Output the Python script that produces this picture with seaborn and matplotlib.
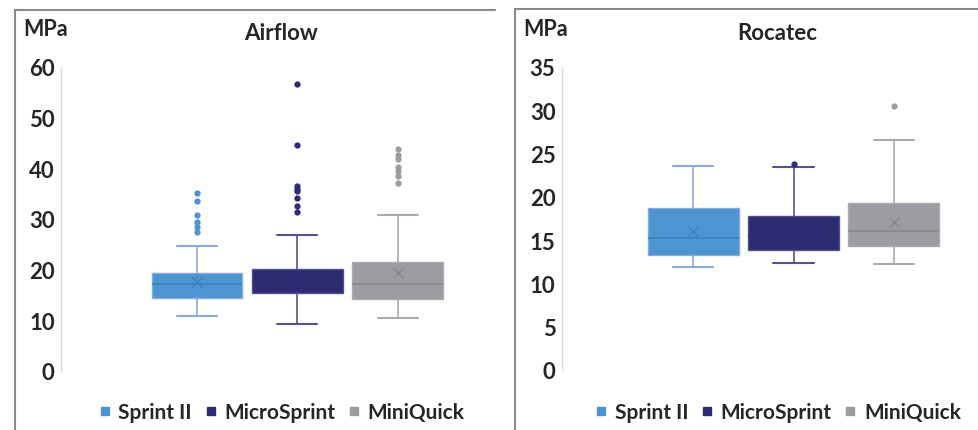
import matplotlib
matplotlib.use("Agg")
import matplotlib.pyplot as plt
from matplotlib.lines import Line2D
import seaborn as sns

# groups and summary stats (MPa)
groups = ["Sprint II", "MicroSprint", "MiniQuick"]

airflow_q1 = [14.4, 15.4, 14.3]
airflow_med = [17.1, 17.5, 17.2]
airflow_q3 = [19.4, 20.1, 21.6]
airflow_lo = [10.8, 9.2, 10.5]
airflow_hi = [24.6, 26.8, 30.8]
airflow_mean = [17.6, 18.2, 19.4]
airflow_out = [
    [35.2, 33.5, 30.8, 29.4, 28.5, 27.4],
    [56.6, 44.6, 36.5, 36.0, 35.6, 34.2, 32.6, 31.3],
    [43.8, 42.7, 41.8, 40.2, 39.5, 38.5, 37.2],
]

rocatec_q1 = [13.3, 13.9, 14.3]
rocatec_med = [15.3, 15.5, 16.0]
rocatec_q3 = [18.7, 17.8, 19.3]
rocatec_lo = [11.9, 12.4, 12.2]
rocatec_hi = [23.6, 23.4, 26.6]
rocatec_mean = [16.0, 16.2, 17.1]
rocatec_out = [[], [23.8], [30.5]]

airflow_ticks = [0, 10, 20, 30, 40, 50, 60]
rocatec_ticks = [0, 5, 10, 15, 20, 25, 30, 35]

fill_colors = ["#4e94d0", "#2e2b71", "#9c9da1"]
line_colors = ["#86aadb", "#55518f", "#a9aaad"]
mid_colors = ["#3f80c0", "#2e2b71", "#86878b"]

sns.set_style("white")
plt.rcParams["font.family"] = ["Lato", "DejaVu Sans"]
WEIGHT = "bold"

W, H = 979, 431
fig = plt.figure(figsize=(W / 100, H / 100), dpi=100)


def px(x, y):
    return x / W, 1 - y / H


def draw_panel(rect, xlim, ylim, ticks, q1, med, q3, lo, hi, mean, out):
    ax = fig.add_axes(rect)
    stats = []
    for i in range(len(groups)):
        stats.append(dict(label=groups[i], q1=q1[i], med=med[i], q3=q3[i],
                          whislo=lo[i], whishi=hi[i], mean=mean[i], fliers=out[i]))
    for i, st in enumerate(stats):
        ax.bxp([st], positions=[i], widths=0.905, patch_artist=True,
               showmeans=True, showfliers=True,
               boxprops=dict(facecolor=fill_colors[i], edgecolor=line_colors[i], linewidth=1),
               whiskerprops=dict(color=line_colors[i], linewidth=1.2),
               capprops=dict(color=line_colors[i], linewidth=1.5),
               medianprops=dict(color=mid_colors[i], linewidth=1.2),
               meanprops=dict(marker="x", markeredgecolor=mid_colors[i], markersize=7,
                              markeredgewidth=1),
               flierprops=dict(marker="o", markerfacecolor=fill_colors[i],
                               markeredgecolor=fill_colors[i], markersize=3.5),
               capwidths=0.4)
    ax.set_xlim(*xlim)
    ax.set_ylim(*ylim)
    ax.set_yticks(ticks)
    ax.set_yticklabels([str(t) for t in ticks], fontsize=16, fontweight=WEIGHT)
    ax.set_xticks([])
    ax.tick_params(axis="y", length=0, pad=4.5)
    sns.despine(ax=ax, top=True, right=True, bottom=True, left=False)
    ax.spines["left"].set_color("#dcdcdc")
    ax.spines["left"].set_linewidth(1)
    ax.patch.set_alpha(0)
    return ax


# Airflow panel
draw_panel([61 / W, (H - 372) / H, (480 - 61) / W, 304 / H],
           (-(197 - 61) / 100.3, (480 - 197) / 100.3), (0, 60), airflow_ticks,
           airflow_q1, airflow_med, airflow_q3, airflow_lo, airflow_hi,
           airflow_mean, airflow_out)

# Rocatec panel
draw_panel([561.7 / W, (H - 371) / H, (975 - 561.7) / W, 303 / H],
           (-(693.3 - 561.7) / 100.2, (975 - 693.3) / 100.2), (0, 35), rocatec_ticks,
           rocatec_q1, rocatec_med, rocatec_q3, rocatec_lo, rocatec_hi,
           rocatec_mean, rocatec_out)

# panel frames
frame = dict(color="#8a8a8a", linewidth=1.5, transform=fig.transFigure)
for (x0, y0, x1, y1) in [(15, 11, 15, 431), (15, 11, 495, 11),
                         (515, 10, 515, 431), (515, 10, 979, 10)]:
    a = px(x0, y0)
    b = px(x1, y1)
    fig.add_artist(Line2D([a[0], b[0]], [a[1], b[1]], **frame))

# texts
for x0, title, xc in [(23, "Airflow", 281), (523, "Rocatec", 777)]:
    fig.text(*px(x0, 30), "MPa", fontsize=15.5, fontweight=WEIGHT, va="center", ha="left")
    fig.text(*px(xc, 33), title, fontsize=16, fontweight=WEIGHT, va="center", ha="center")

handles = [Line2D([], [], linestyle="none", marker="s", markersize=6,
                  markerfacecolor=c, markeredgecolor=c) for c in fill_colors]
for xc in [281.5, 778]:
    fig.legend(handles, groups, loc="center", bbox_to_anchor=px(xc, 413), ncol=3,
               frameon=False, handlelength=0.6, handletextpad=0.35, columnspacing=0.6,
               prop=dict(size=15, weight=WEIGHT), borderaxespad=0, borderpad=0)

fig.savefig("out.png", dpi=100)
